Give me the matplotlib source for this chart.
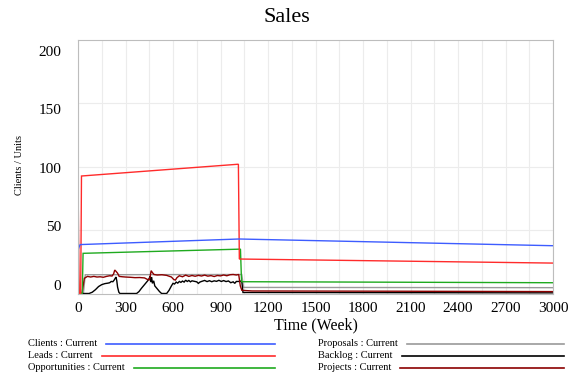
import matplotlib
matplotlib.use("Agg")
import matplotlib.pyplot as plt
from matplotlib.lines import Line2D
from matplotlib.ticker import FixedLocator, MultipleLocator

plt.rcParams["font.family"] = ["Liberation Serif", "DejaVu Serif"]

# ---- series (time in weeks) ----
clients_t = [0, 6, 14, 1017, 3000]
clients_v = [34.0, 36.5, 38.6, 43.0, 37.7]

leads_t = [0, 4, 8, 17, 22, 1013, 1019, 3000]
leads_v = [91.0, 40.0, 0.0, 0.0, 92.7, 102.0, 27.2, 24.0]

opps_t = [0, 4, 27, 32, 1026, 1033, 3000]
opps_v = [28.0, 0.0, 0.0, 31.7, 35.0, 9.3, 8.5]

proposals_t = [0, 6, 34, 46, 1034, 1046, 3000]
proposals_v = [8.0, 0.0, 0.0, 14.8, 15.0, 4.8, 4.6]

backlog_t = [0, 5, 70, 90, 110, 130, 150, 170, 190, 200, 210, 220, 228, 235,
             240, 245, 250, 258, 265, 370, 385, 400, 420, 440, 450, 455, 460,
             465, 470, 478, 485, 495, 505, 515, 528, 560, 575, 590, 600, 610,
             620, 630, 640, 650, 660, 670, 680, 690, 700, 710, 720, 735, 750,
             760, 770, 780, 800, 815, 830, 845, 860, 875, 890, 905, 920, 935,
             950, 965, 980, 990, 1000, 1015, 1025, 1035, 1042, 3000]
backlog_v = [6.0, 0.0, 0.0, 1.0, 3.0, 5.5, 7.0, 7.8, 8.2, 8.5, 9.5, 9.3, 10.5,
             12.0, 13.0, 10.0, 5.0, 1.0, 0.0, 0.0, 1.5, 4.0, 7.0, 10.0, 12.0,
             13.5, 9.0, 13.0, 8.0, 10.0, 6.0, 4.5, 3.0, 1.5, 0.0, 0.0, 2.5,
             6.0, 8.0, 7.5, 9.0, 8.2, 9.5, 8.8, 9.8, 9.0, 10.5, 9.5, 10.3, 9.2,
             10.0, 9.6, 9.2, 8.0, 9.0, 9.5, 10.3, 9.4, 10.1, 9.3, 10.0, 9.6,
             10.4, 9.5, 10.2, 9.4, 9.9, 8.5, 9.2, 8.0, 9.5, 9.5, 9.8, 9.0,
             0.8, 0.5]

projects_t = [0, 5, 25, 40, 60, 80, 100, 120, 140, 160, 180, 200, 215, 225,
              232, 240, 250, 260, 280, 300, 330, 360, 390, 420, 440, 450, 455,
              462, 470, 480, 500, 530, 560, 590, 605, 615, 625, 640, 660, 680,
              700, 720, 740, 760, 780, 800, 820, 840, 860, 880, 900, 920, 940,
              960, 980, 1000, 1015, 1025, 1035, 1100, 2000, 3000]
projects_v = [20.0, 0.0, 0.0, 12.0, 13.5, 13.0, 13.5, 13.0, 13.2, 12.8, 13.5,
              14.0, 13.8, 15.5, 18.5, 17.5, 16.0, 13.5, 13.2, 13.0, 12.8, 12.5,
              12.6, 12.3, 11.0, 10.6, 13.0, 18.0, 16.5, 15.0, 14.6, 14.8, 14.3,
              13.0, 11.0, 10.6, 12.5, 14.0, 13.2, 14.5, 13.5, 14.2, 13.6, 14.3,
              13.8, 14.5, 13.7, 14.1, 13.4, 14.2, 13.9, 14.6, 14.0, 14.8, 15.0,
              14.6, 15.0, 6.0, 2.5, 2.0, 1.8, 1.5]

x_ticks = list(range(0, 3001, 300))
y_tick_values = [0, 50, 100, 150, 200]

legend_entries = [
    ("Clients : Current", "#3d5cff"),
    ("Leads : Current", "#ff2b2b"),
    ("Opportunities : Current", "#1faa1f"),
    ("Proposals : Current", "#9a9a9a"),
    ("Backlog : Current", "#000000"),
    ("Projects : Current", "#8b0000"),
]

series = [
    (clients_t, clients_v),
    (leads_t, leads_v),
    (opps_t, opps_v),
    (proposals_t, proposals_v),
    (backlog_t, backlog_v),
    (projects_t, projects_v),
]

W, H = 574, 374
fig = plt.figure(figsize=(W / 100, H / 100), dpi=100)
ax = fig.add_axes([78 / W, 1 - 293.5 / H, (553 - 78) / W, (293.5 - 40) / H])

# draw order: bottom series first so the large ones sit on top
order = [3, 4, 5, 2, 1, 0]
for i in order:
    t, v = series[i]
    ax.plot(t, v, color=legend_entries[i][1], lw=1.0, solid_joinstyle="miter")

ax.set_xlim(0, 3000)
ax.set_ylim(0, 200)

# gridlines
ax.xaxis.set_major_locator(FixedLocator(x_ticks))
ax.xaxis.set_minor_locator(MultipleLocator(150))
ax.yaxis.set_minor_locator(FixedLocator([50, 100, 150]))
ax.grid(which="minor", color="#ececec", lw=0.8)
ax.grid(which="major", axis="x", color="#ececec", lw=0.8)
ax.set_axisbelow(True)

# value labels on the y axis sit slightly compressed toward the middle
ax.set_yticks([6.7 + 0.9245 * v for v in y_tick_values])
ax.set_yticklabels([str(v) for v in y_tick_values])
ax.set_xticklabels([str(v) for v in x_ticks])
ax.tick_params(which="both", length=0)
ax.tick_params(axis="y", labelsize=11, pad=12)
ax.tick_params(axis="x", labelsize=11, pad=6)

for s in ax.spines.values():
    s.set_color("#bdbdbd")
    s.set_linewidth(0.8)

fig.text(0.5, 1 - 17 / H, "Sales", ha="center", va="center", fontsize=16)
fig.text(316 / W, 1 - 325 / H, "Time (Week)", ha="center", va="center",
         fontsize=11.5)
fig.text(20 / W, 1 - 165 / H, "Clients / Units", ha="center", va="center",
         rotation=90, fontsize=7.5)

# two-column legend: label text followed by a line sample
col_x = [28, 318]
col_end = [275, 564]
row_y = [344, 356, 368]
fig.canvas.draw()
renderer = fig.canvas.get_renderer()
for k, (label, color) in enumerate(legend_entries):
    c, r = divmod(k, 3)
    txt = fig.text(col_x[c] / W, 1 - row_y[r] / H, label, ha="left",
                   va="center", fontsize=7.5)
    bb = txt.get_window_extent(renderer)
    x0 = (bb.x1 + 9) / W
    x1 = col_end[c] / W
    y = 1 - row_y[r] / H
    fig.add_artist(Line2D([x0, x1], [y, y], transform=fig.transFigure,
                          color=color, lw=1.2))

fig.savefig("out.png", dpi=100)
